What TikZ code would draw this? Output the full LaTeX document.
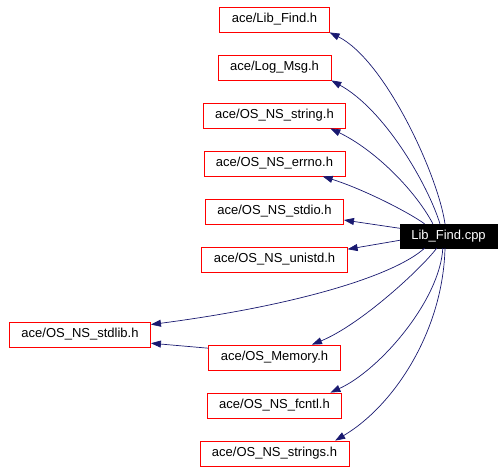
\documentclass[tikz,border=0pt]{standalone}
\usepackage{fontspec}
\setmainfont{Liberation Sans}
\usetikzlibrary{arrows.meta}
\definecolor{edgeblue}{RGB}{25,25,112}
\begin{document}
\begin{tikzpicture}[x = 1pt, y = 1pt, node distance = 48pt,
    hdr/.style = {draw = red, line width = 0.8pt, inner xsep = 12pt, minimum height = 25pt, font = \fontsize{13}{15}\selectfont},
    src/.style = {draw, fill = black, text = white, inner xsep = 11pt, minimum height = 24pt, font = \fontsize{13}{15}\selectfont},
    dep/.style = {edgeblue, line width = 0.7pt, -{Triangle[length = 10pt, width = 7pt]}}]
    \useasboundingbox (0,0) rectangle (504,-472);
    \node[src] (cpp) at (448.5,-236) {Lib\_Find.cpp};
    \node[hdr] (libh) at (274.5,-19.5) {ace/Lib\_Find.h};
    \node[hdr, below of = libh] (logmsg) {ace/Log\_Msg.h};
    \node[hdr, below of = logmsg] (string) {ace/OS\_NS\_string.h};
    \node[hdr, below of = string] (errno) {ace/OS\_NS\_errno.h};
    \node[hdr, below of = errno] (stdio) {ace/OS\_NS\_stdio.h};
    \node[hdr, below of = stdio] (unistd) {ace/OS\_NS\_unistd.h};
    \node[hdr, below of = unistd, node distance = 98pt] (memory) {ace/OS\_Memory.h};
    \node[hdr, below of = memory] (fcntl) {ace/OS\_NS\_fcntl.h};
    \node[hdr, below of = fcntl] (strings) {ace/OS\_NS\_strings.h};
    \node[hdr] (stdlib) at (80,-334.5) {ace/OS\_NS\_stdlib.h};
    \draw[dep] (cpp.106) .. controls (438,-175) and (385,-60) .. (libh.south east);
    \draw[dep] (cpp.125) .. controls (428,-185) and (385,-110) .. (logmsg.south east);
    \draw[dep] (cpp.142) .. controls (415,-190) and (375,-150) .. (string.-13);
    \draw[dep] (cpp.153) .. controls (405,-210) and (360,-188) .. (errno.-15);
    \draw[dep] (cpp.171) -- (stdio.-7);
    \draw[dep] (cpp.185) -- (unistd.8);
    \draw[dep] (cpp.207) .. controls (395,-275) and (300,-305) .. (stdlib.8);
    \draw[dep] (cpp.226) .. controls (420,-270) and (360,-325) .. (memory.19);
    \draw[dep] (cpp.245) .. controls (440,-300) and (380,-370) .. (fcntl.13);
    \draw[dep] (cpp.254) .. controls (443,-330) and (395,-405) .. (strings.12);
    \draw[dep] (memory.172) -- (stdlib.-7);
\end{tikzpicture}
\end{document}
